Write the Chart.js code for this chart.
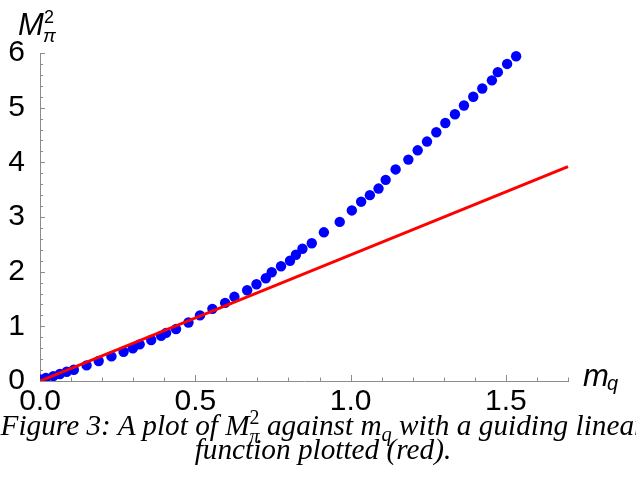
<!DOCTYPE html>
<html>
<head>
<meta charset="utf-8">
<script src="https://cdn.jsdelivr.net/npm/chart.js@4.4.1/dist/chart.umd.min.js"></script>
<style>
  html, body { margin: 0; padding: 0; background: #fff; width: 636px; height: 485px; overflow: hidden; }
  #c { position: absolute; left: 0; top: 0; }
  .lab { position: absolute; font-family: "Liberation Sans", Arial, sans-serif; color: #000; white-space: nowrap; }
  .cap { position: absolute; left: -77px; width: 800px; text-align: center; white-space: nowrap;
         font-family: "Liberation Serif", "Times New Roman", serif; font-style: italic; color: #000; }
  .ss { display: inline-block; vertical-align: -0.42em; font-size: 0.68em; line-height: 0.95; text-align: left; }
  .ss span { display: block; }
  .up { font-style: normal; }
</style>
</head>
<body>
<canvas id="c" width="636" height="420"></canvas>

<div class="lab" style="left:18px; top:9px; font-size:31px; line-height:31px; font-style:italic;">M</div>
<div class="lab" style="left:44px; top:8px; font-size:18px; line-height:18px;">2</div>
<div class="lab" style="left:43px; top:26px; font-size:19px; line-height:19px; font-style:italic;">π</div>
<div class="lab" style="left:583px; top:360px; font-size:31px; line-height:31px; font-style:italic;">m</div>
<div class="lab" style="left:607px; top:373px; font-size:20px; line-height:20px; font-style:italic;">q</div>

<div class="cap" id="cap1">Figure 3: A plot of M<span class="ss"><span class="up">2</span><span>π</span></span> against m<sub style="font-size:0.7em">q</sub> with a guiding linear</div>
<div class="cap" id="cap2">function plotted (red).</div>

<script>
// quark mass m_q against pion mass squared
const mq = [0.005, 0.019, 0.043, 0.064, 0.086, 0.109, 0.150, 0.189, 0.230, 0.269,
            0.299, 0.321, 0.358, 0.390, 0.406, 0.438, 0.478, 0.515, 0.555, 0.596,
            0.626, 0.667, 0.697, 0.727, 0.746, 0.776, 0.805, 0.824, 0.845, 0.875,
            0.914, 0.965, 1.004, 1.034, 1.062, 1.090, 1.113, 1.145, 1.186, 1.216,
            1.246, 1.276, 1.305, 1.336, 1.365, 1.395, 1.424, 1.455, 1.474, 1.504, 1.533];
const mpi2 = [0.026, 0.055, 0.090, 0.128, 0.170, 0.205, 0.285, 0.365, 0.450, 0.535,
              0.600, 0.670, 0.750, 0.825, 0.880, 0.950, 1.070, 1.200, 1.320, 1.430,
              1.540, 1.660, 1.770, 1.880, 1.990, 2.100, 2.200, 2.310, 2.420, 2.520,
              2.720, 2.910, 3.120, 3.280, 3.400, 3.520, 3.680, 3.870, 4.050, 4.220,
              4.380, 4.550, 4.720, 4.880, 5.040, 5.200, 5.350, 5.500, 5.650, 5.800, 5.940];

// guiding linear function (red)
const lineX = [0, 1.7];
const lineY = [0, 3.92];

const xTicks = [0, 0.5, 1.0, 1.5];
const yTicks = [0, 1, 2, 3, 4, 5, 6];

const axisGray = '#8c8c8c';
const tickFont = { family: '"Liberation Sans", Arial, sans-serif', size: 30 };

// Mathematica style ticks pointing into the plot
const inwardTicks = {
  id: 'inwardTicks',
  afterDraw(chart) {
    const { ctx, chartArea, scales: { x, y } } = chart;
    ctx.save();
    ctx.strokeStyle = axisGray;
    ctx.lineWidth = 1;
    ctx.beginPath();
    for (let i = 1; i <= 17; i++) {
      const px = Math.round(x.getPixelForValue(i / 10)) + 0.5;
      const len = i % 5 === 0 ? 6 : 3.5;
      ctx.moveTo(px, chartArea.bottom);
      ctx.lineTo(px, chartArea.bottom - len);
    }
    for (let i = 1; i <= 30; i++) {
      const py = Math.round(y.getPixelForValue(i / 5)) + 0.5;
      const len = i % 5 === 0 ? 5 : 3;
      ctx.moveTo(chartArea.left, py);
      ctx.lineTo(chartArea.left + len, py);
    }
    ctx.stroke();
    ctx.restore();
  }
};

const clipArea = { left: 0, bottom: 0, top: false, right: false };

new Chart(document.getElementById('c'), {
  type: 'scatter',
  data: {
    datasets: [
      {
        type: 'line',
        data: lineX.map((x, i) => ({ x: x, y: lineY[i] })),
        borderColor: '#ff0000',
        borderWidth: 3,
        pointRadius: 0,
        fill: false,
        clip: clipArea
      },
      {
        data: mq.map((x, i) => ({ x: x, y: mpi2[i] })),
        backgroundColor: '#0000ff',
        borderWidth: 0,
        pointRadius: 5.2,
        clip: clipArea
      }
    ]
  },
  options: {
    responsive: false,
    animation: false,
    devicePixelRatio: 1,
    layout: { padding: { left: 0, top: 53, right: 68, bottom: 0 } },
    plugins: { legend: { display: false }, tooltip: { enabled: false } },
    scales: {
      x: {
        type: 'linear',
        min: 0,
        max: 1.7,
        afterBuildTicks: s => { s.ticks = xTicks.map(v => ({ value: v })); },
        afterFit: s => { s.height = 39; },
        grid: { display: false },
        border: { display: true, color: axisGray, width: 1 },
        ticks: { font: tickFont, color: '#000', padding: -5, maxRotation: 0,
                 callback: v => v.toFixed(1) }
      },
      y: {
        type: 'linear',
        min: 0,
        max: 6,
        afterBuildTicks: s => { s.ticks = yTicks.map(v => ({ value: v })); },
        afterFit: s => { s.width = 40; },
        grid: { display: false },
        border: { display: true, color: axisGray, width: 1 },
        ticks: { font: tickFont, color: '#000', padding: 7,
                 callback: v => String(v) }
      }
    }
  },
  plugins: [inwardTicks]
});

// caption: fit first line to the width it has in the figure, stack lines
const cap1 = document.getElementById('cap1');
const cap2 = document.getElementById('cap2');
let fs = 24;
const probe = document.createElement('span');
probe.innerHTML = cap1.innerHTML;
probe.style.cssText = 'position:absolute;visibility:hidden;white-space:nowrap;font-family:"Liberation Serif",serif;font-style:italic;font-size:' + fs + 'px';
document.body.appendChild(probe);
fs = fs * 645 / probe.getBoundingClientRect().width;
probe.remove();
[cap1, cap2].forEach((el, i) => {
  el.style.fontSize = fs + 'px';
  el.style.lineHeight = fs + 'px';
  el.style.top = (433 - 0.84 * fs + i * 27) + 'px';
});
</script>
</body>
</html>
